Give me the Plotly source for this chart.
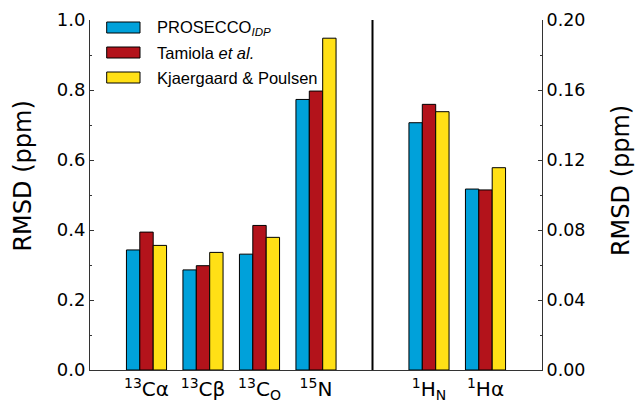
import plotly.graph_objects as go

# ---- data ----
left_pos = [0, 1, 2, 3]
right_pos = [5, 6]
left_labels = ["<sup>13</sup>Cα", "<sup>13</sup>Cβ", "<sup>13</sup>C<sub>O</sub>", "<sup>15</sup>N"]
right_labels = ["<sup>1</sup>H<sub>N</sub>", "<sup>1</sup>Hα"]

series_names = ["PROSECCO<sub><i>IDP</i></sub>", "Tamiola <i>et al.</i>", "Kjaergaard & Poulsen"]
series_colors = ["#00a1da", "#b3131b", "#ffe016"]

left_values = [
    [0.343, 0.286, 0.331, 0.773],   # PROSECCO
    [0.394, 0.298, 0.413, 0.797],   # Tamiola
    [0.356, 0.336, 0.379, 0.948],   # Kjaergaard & Poulsen
]
right_values = [
    [0.1413, 0.1034],
    [0.1518, 0.1029],
    [0.1476, 0.1156],
]

left_ticks = [0.0, 0.2, 0.4, 0.6, 0.8, 1.0]
right_ticks = [0.00, 0.04, 0.08, 0.12, 0.16, 0.20]

TICK_FONT = "DejaVu Sans"
LEG_FONT = "Liberation Sans"

fig = go.Figure()
for i in range(3):
    fig.add_trace(go.Bar(x=left_pos, y=left_values[i], marker_color=series_colors[i],
                         marker_line=dict(color="black", width=1), offsetgroup=str(i),
                         yaxis="y", showlegend=False))
for i in range(3):
    fig.add_trace(go.Bar(x=right_pos, y=right_values[i], marker_color=series_colors[i],
                         marker_line=dict(color="black", width=1), offsetgroup=str(i),
                         yaxis="y2", showlegend=False))

# separator in the empty slot between the two groups
sep_x = (max(left_pos) + min(right_pos)) / 2
fig.add_shape(type="line", xref="x", yref="paper", x0=sep_x, x1=sep_x, y0=0, y1=1,
              line=dict(color="black", width=2))

# custom legend
row_h = 25 / 350
for i, (name, col) in enumerate(zip(series_names, series_colors)):
    yc = 1 - (7.5 / 350) - i * row_h
    fig.add_shape(type="rect", xref="paper", yref="paper",
                  x0=16.7 / 452, x1=50 / 452, y0=yc - 5.5 / 350, y1=yc + 5.5 / 350,
                  fillcolor=col, line=dict(color="black", width=1))
    fig.add_annotation(xref="paper", yref="paper", x=65 / 452, y=yc, text=name,
                       showarrow=False, xanchor="left", yanchor="middle",
                       font=dict(family=LEG_FONT, size=16.5, color="black"))

# axis titles
fig.add_annotation(xref="paper", yref="paper", x=-0.148, y=0.553, text="RMSD (ppm)",
                   textangle=-90, showarrow=False, xanchor="center", yanchor="middle",
                   font=dict(family=TICK_FONT, size=24, color="black"))
fig.add_annotation(xref="paper", yref="paper", x=1.175, y=0.54, text="RMSD (ppm)",
                   textangle=-90, showarrow=False, xanchor="center", yanchor="middle",
                   font=dict(family=TICK_FONT, size=24, color="black"))

fig.update_layout(
    width=635, height=400,
    margin=dict(l=90, r=93, t=20, b=30, autoexpand=False),
    paper_bgcolor="white", plot_bgcolor="white",
    barmode="group", bargap=0.29, bargroupgap=0,
    xaxis=dict(range=[-1, 7], tickvals=left_pos + right_pos, ticktext=left_labels + right_labels,
               showgrid=False, zeroline=False, showline=True, linecolor="#333", linewidth=1,
               ticks="", automargin=False, ticklabelstandoff=1,
               tickfont=dict(family=TICK_FONT, size=20, color="black")),
    yaxis=dict(range=[0, 1.0], tickvals=left_ticks, ticktext=[f"{v:.1f}" for v in left_ticks],
               showgrid=False, zeroline=False, showline=True, linecolor="#333", linewidth=1,
               ticks="inside", ticklen=4, tickcolor="#333", automargin=False,
               minor=dict(dtick=0.1, ticks="inside", ticklen=2, tickcolor="#333"),
               tickfont=dict(family=TICK_FONT, size=18, color="black")),
    yaxis2=dict(range=[0, 0.2], overlaying="y", side="right",
                tickvals=right_ticks, ticktext=[f"{v:.2f}" for v in right_ticks],
                showgrid=False, zeroline=False, showline=True, linecolor="#333", linewidth=1,
                ticks="inside", ticklen=4, tickcolor="#333", automargin=False,
                minor=dict(dtick=0.02, ticks="inside", ticklen=2, tickcolor="#333"),
                tickfont=dict(family=TICK_FONT, size=17.5, color="black")),
)

fig.write_html("out.html")
